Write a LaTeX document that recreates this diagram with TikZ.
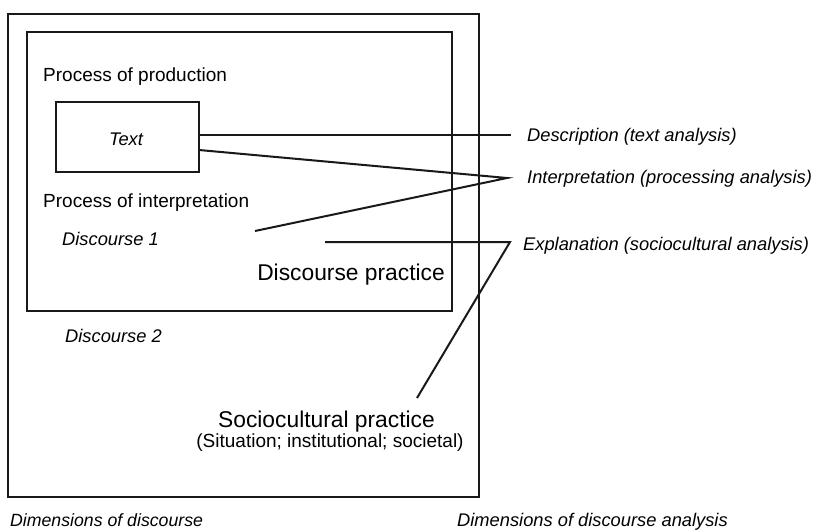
\documentclass[tikz,border=0pt]{standalone}
\usepackage{fontspec}
\setmainfont{Liberation Sans}
\begin{document}
\begin{tikzpicture}[x=1pt,y=-1pt,
  box/.style={draw=black!90, line width=2.5pt},
  conn/.style={draw=black!90, line width=2pt},
  lbl/.style={inner sep=0pt, anchor=base west, font=\fontsize{19}{21}\selectfont},
  ilbl/.style={inner sep=0pt, anchor=base west, font=\fontsize{18.3}{20}\selectfont\itshape},
  big/.style={inner sep=0pt, anchor=base west, font=\fontsize{22.8}{25}\selectfont}]
\useasboundingbox (0,0) rectangle (816,532);
% boxes
\draw[box] (8,14) rectangle (479,497);
\draw[box] (27,32) rectangle (452,311);
\node[box, minimum width=143pt, minimum height=70pt, inner sep=0pt] (text) at (127.5,137) {};
\node[ilbl, anchor=base] (textlbl) at (126,145.5) {Text};
% inner labels
\node[lbl] (prod) at (43,82) {Process of production};
\node[lbl] (interp) at (43,207) {Process of interpretation};
\node[ilbl] (d1) at (62,245) {Discourse 1};
\node[big, anchor=base east] (dp) at (445,280) {Discourse practice};
\node[ilbl] (d2) at (65,342) {Discourse 2};
\node[big, anchor=base] (sp) at (326.5,427) {Sociocultural practice};
\node[lbl, anchor=base] (spsub) at (330,447) {(Situation; institutional; societal)};
\node[ilbl, font=\fontsize{17.7}{20}\selectfont\itshape] (dimd) at (10,526) {Dimensions of discourse};
\node[ilbl] (dimda) at (457,526) {Dimensions of discourse analysis};
% right labels
\node[ilbl] (desc) at (527,141) {Description (text analysis)};
\node[ilbl] (interpa) at (527,183) {Interpretation (processing analysis)};
\node[ilbl] (expl) at (523,250) {Explanation (sociocultural analysis)};
% connector points
\coordinate (c1) at (511,135.5);
\coordinate (c2) at (507,178);
\coordinate (c3) at (510,242);
\coordinate (t2) at (199,150);
\coordinate (d1e) at (255,231);
\coordinate (dpe) at (325,242);
\coordinate (spe) at (417,398);
% connectors
\draw[conn] (text.east |- c1) -- (c1);
\draw[conn] (t2) -- (c2) -- (d1e);
\draw[conn] (dpe) -- (c3) -- (spe);
\end{tikzpicture}
\end{document}
